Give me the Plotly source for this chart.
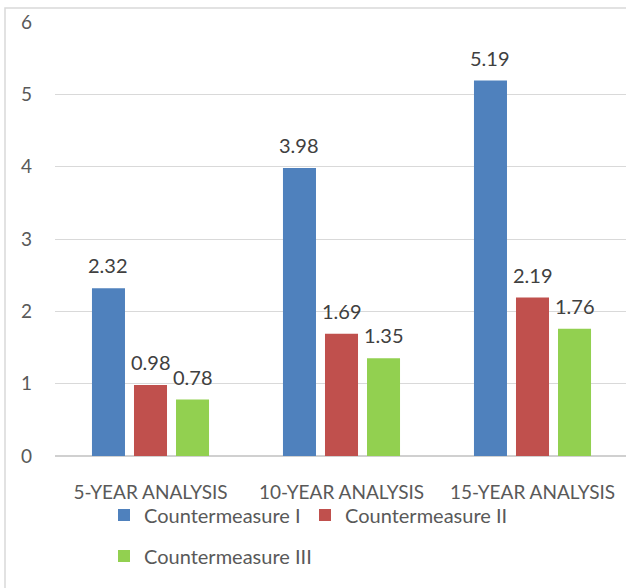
import plotly.graph_objects as go

# Analysis horizons and countermeasure results
categories = ["5-YEAR ANALYSIS", "10-YEAR ANALYSIS", "15-YEAR ANALYSIS"]
series_names = ["Countermeasure I", "Countermeasure II", "Countermeasure III"]
cm1 = [2.32, 3.98, 5.19]
cm2 = [0.98, 1.69, 2.19]
cm3 = [0.78, 1.35, 1.76]
y_ticks = [0, 1, 2, 3, 4, 5, 6]

colors = ["#4F81BD", "#C0504D", "#92D050"]
FONT = "Lato"
BARGAP = 0.34
W, H = 626, 588
ML, MR, MT, MB = 55, 0, 22, 132

fig = go.Figure()
all_series = [cm1, cm2, cm3]
legend_ids = ["legend", "legend", "legend2"]
for name, vals, col, lg in zip(series_names, all_series, colors, legend_ids):
    fig.add_trace(go.Bar(
        x=list(range(len(categories))), y=vals, name=name,
        marker=dict(color=col, line=dict(width=0)),
        legend=lg,
    ))

# value labels above each bar, placed at the bar's slot centre
slot = (1 - BARGAP) / len(all_series)
annotations = []
for si, vals in enumerate(all_series):
    offset = (si - (len(all_series) - 1) / 2) * slot
    for ci, v in enumerate(vals):
        annotations.append(dict(
            x=ci + offset, y=v, xref="x", yref="y",
            text=f"{v:.2f}", showarrow=False, yanchor="bottom",
            yshift=9, font=dict(family=FONT, size=20, color="#404040"),
        ))

plot_w = W - ML - MR
plot_h = H - MT - MB
cat_px = 191.0
x_hi = -0.5 + plot_w / cat_px

# outer chart frame
frame = dict(
    type="rect", xref="paper", yref="paper",
    x0=(5 - ML) / plot_w, x1=(W + 20 - ML) / plot_w,
    y0=(H - MB - (H + 20)) / plot_h, y1=(H - MB - 8) / plot_h,
    line=dict(color="#D9D9D9", width=1.5), fillcolor="rgba(0,0,0,0)",
    layer="below",
)

fig.update_layout(
    width=W, height=H,
    margin=dict(l=ML, r=MR, t=MT, b=MB, pad=0),
    paper_bgcolor="white", plot_bgcolor="white",
    barmode="group", bargap=BARGAP, bargroupgap=0.214,
    font=dict(family=FONT, size=19, color="#595959"),
    xaxis=dict(
        range=[-0.5, x_hi], tickmode="array",
        tickvals=list(range(len(categories))), ticktext=categories,
        showgrid=False, zeroline=False, showline=False, ticks="",
        ticklabelstandoff=23,
        tickfont=dict(family=FONT, size=19, color="#595959"),
    ),
    yaxis=dict(
        range=[0, 6], tickmode="array", tickvals=y_ticks,
        showgrid=True, gridcolor="#D9D9D9", gridwidth=1,
        zeroline=True, zerolinecolor="#D0D0D0", zerolinewidth=1.5,
        showline=False, ticks="", ticklabelstandoff=22,
        tickfont=dict(family=FONT, size=19, color="#595959"),
    ),
    legend=dict(
        orientation="h", x=(104 - ML) / plot_w, xanchor="left",
        y=(H - MB - 515) / plot_h, yanchor="middle",
        entrywidth=156, font=dict(family=FONT, size=20, color="#595959"),
        bgcolor="rgba(0,0,0,0)", traceorder="normal",
    ),
    legend2=dict(
        orientation="h", x=(104 - ML) / plot_w, xanchor="left",
        y=(H - MB - 556) / plot_h, yanchor="middle",
        font=dict(family=FONT, size=20, color="#595959"),
        bgcolor="rgba(0,0,0,0)",
    ),
    annotations=annotations,
    shapes=[frame],
)

fig.write_html("out.html")
